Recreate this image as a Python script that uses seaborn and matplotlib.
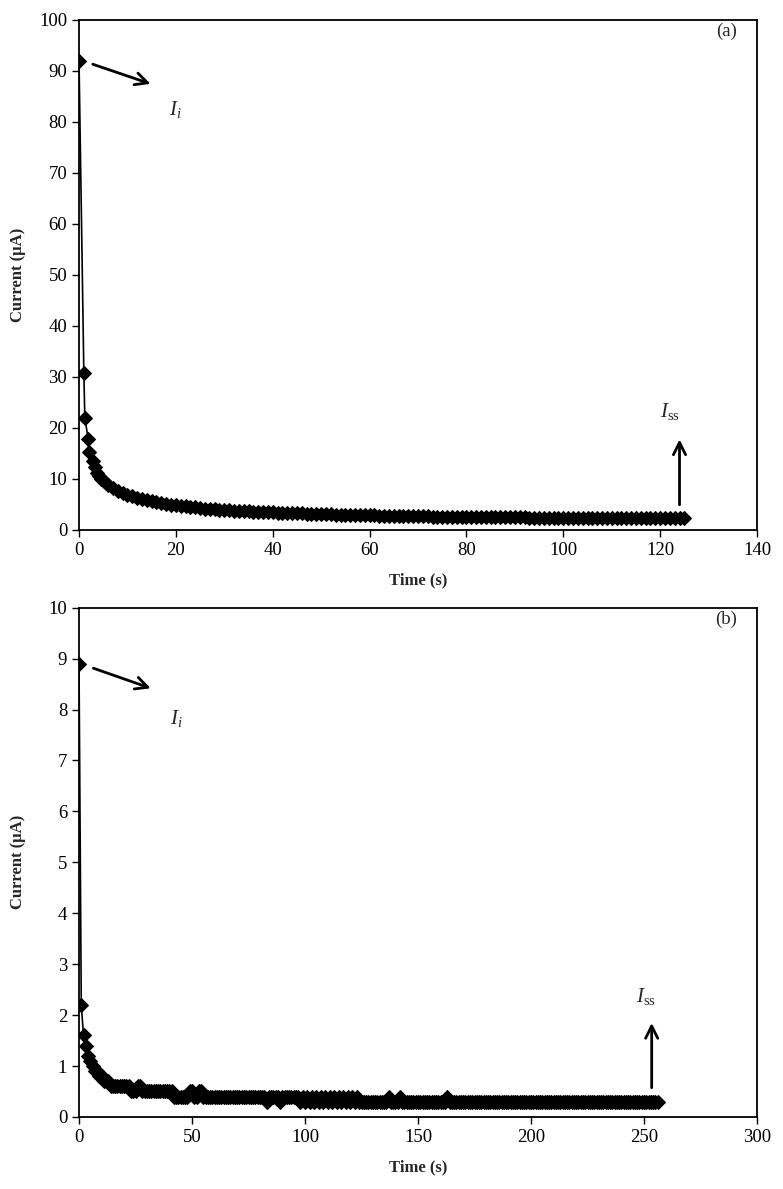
import numpy as np
import matplotlib
matplotlib.use("Agg")
import matplotlib.pyplot as plt
import seaborn as sns

# --- datos panel (a) ---
time_a = [0, 1, 1.2, 1.9, 2.1, 2.9, 3.3, 3.7, 4.2, 4.6, 5.1, 5.5] + list(range(6, 126))
current_a = [92.0, 30.8, 22.0, 17.8, 15.2, 13.6, 12.4, 11.2, 10.6, 10.0, 9.6, 9.2,
             8.8, 8.2, 7.7, 7.3, 6.9, 6.6, 6.3, 6.0, 5.8, 5.6,
             5.4, 5.2, 5.1, 4.9, 4.8, 4.7, 4.6, 4.5, 4.4, 4.3,
             4.2, 4.1, 4.1, 4.0, 3.9, 3.9, 3.8, 3.8, 3.7, 3.7,
             3.6, 3.6, 3.5, 3.5, 3.5, 3.4, 3.4, 3.4, 3.3, 3.3,
             3.3, 3.2, 3.2, 3.2, 3.1, 3.1, 3.1, 3.0, 3.0, 3.0,
             3.0, 2.9, 2.9, 2.9, 2.9, 2.9, 2.8, 2.8, 2.8, 2.8,
             2.8, 2.7, 2.7, 2.7, 2.7, 2.7, 2.7, 2.6, 2.6, 2.6,
             2.6, 2.6, 2.6, 2.6, 2.6, 2.5, 2.5, 2.5, 2.5, 2.5,
             2.5, 2.5, 2.5, 2.5, 2.5, 2.5, 2.5, 2.4, 2.4, 2.4,
             2.4, 2.4, 2.4, 2.4, 2.4, 2.4, 2.4, 2.4, 2.4, 2.4,
             2.4, 2.4, 2.4, 2.4, 2.4, 2.3, 2.3, 2.3, 2.3, 2.3,
             2.3, 2.3, 2.3, 2.3, 2.3, 2.3, 2.3, 2.3, 2.3, 2.3]

# --- datos panel (b) (lecturas cuantizadas a 0.1 uA) ---
time_b = list(range(0, 257))
current_b = ([8.9, 2.2, 1.6, 1.4, 1.2, 1.1, 1.0, 0.9, 0.9, 0.8, 0.8, 0.7, 0.7, 0.7]
             + [0.6] * 9 + [0.5] * 3 + [0.6] * 2 + [0.5] * 14
             + [0.4] * 7 + [0.5] * 2 + [0.4] * 2 + [0.5] * 2
             + [0.4] * 28 + [0.3] + [0.4] * 5 + [0.3] + [0.4] * 7
             + [0.4, 0.3] * 14 + [0.3] * 12 + [0.4] + [0.3] * 4 + [0.4]
             + [0.3] * 20 + [0.4] + [0.3] * 93)

sns.set_style("ticks")
plt.rcParams['font.family'] = ['Liberation Serif', 'DejaVu Serif']
plt.rcParams['mathtext.fontset'] = 'custom'
plt.rcParams['mathtext.rm'] = 'Liberation Serif'
plt.rcParams['mathtext.it'] = 'Liberation Serif:italic'

fig = plt.figure(figsize=(7.83, 11.89), dpi=100)
ax_a = fig.add_axes([0.1009, 0.5543, 0.8659, 0.4289])
ax_b = fig.add_axes([0.1009, 0.0606, 0.8659, 0.4283])

panels = [
    (ax_a, time_a, current_a, (0, 140), 20, (0, 100), 10, "(a)",
     ((2.3, 91.5), (15.3, 87.3), (19.8, 82.4)),
     ((124, 4.4), (124, 18.3), (122, 23.2))),
    (ax_b, time_b, current_b, (0, 300), 50, (0, 10), 1, "(b)",
     ((5.2, 8.83), (32.9, 8.40), (43.2, 7.83)),
     ((253.4, 0.52), (253.4, 1.9), (251, 2.36))),
]

for ax, t, c, xlim, xstep, ylim, ystep, tag, ann_i, ann_ss in panels:
    sns.lineplot(x=t, y=c, ax=ax, color="black", marker="D", markersize=7,
                 markeredgecolor="black", linewidth=1.2, estimator=None)
    ax.set_xlim(*xlim)
    ax.set_ylim(*ylim)
    ax.set_xticks(np.arange(xlim[0], xlim[1] + xstep, xstep))
    ax.set_yticks(np.arange(ylim[0], ylim[1] + ystep, ystep))
    ax.tick_params(direction="out", length=5, width=1, labelsize=13.5, colors="black")
    for s in ax.spines.values():
        s.set_visible(True)
        s.set_linewidth(1.3)
        s.set_color("black")
    ax.set_xlabel("Time (s)", fontweight="bold", fontsize=12, labelpad=10)
    ax.set_ylabel("Current (\u00b5A)", fontweight="bold", fontsize=12)
    ax.yaxis.set_label_coords(-0.078, 0.5)

    ax.text(0.955, 0.978, tag, transform=ax.transAxes, ha="center", va="center", fontsize=13.5)

    ax.annotate("", xy=ann_i[1], xytext=ann_i[0],
                arrowprops=dict(arrowstyle="->", color="black", lw=2, mutation_scale=22))
    ax.text(ann_i[2][0], ann_i[2][1], "$I_i$", ha="center", va="center", fontsize=15)

    ax.annotate("", xy=ann_ss[1], xytext=ann_ss[0],
                arrowprops=dict(arrowstyle="->", color="black", lw=2, mutation_scale=22))
    ax.text(ann_ss[2][0], ann_ss[2][1], "$I_{\\mathrm{ss}}$", ha="center", va="center", fontsize=15)

fig.savefig("out.png", dpi=100)
